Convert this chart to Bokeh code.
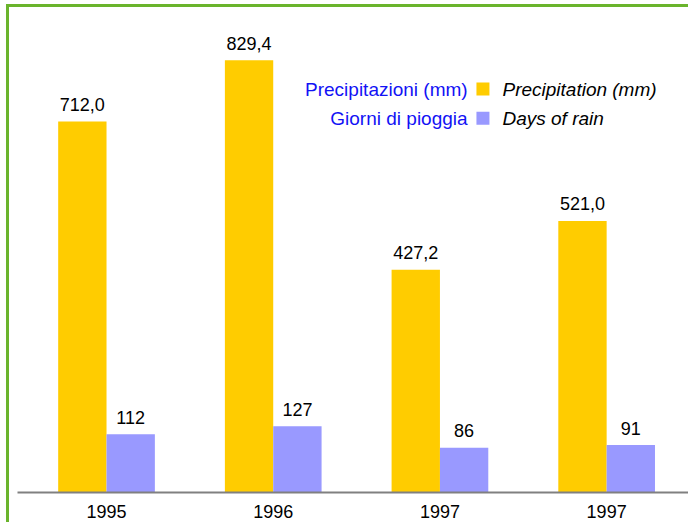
import numpy as np
from bokeh.plotting import figure
from bokeh.models import Range1d, ColumnDataSource, FixedTicker, Label
from bokeh.core.properties import value
from bokeh.embed import file_html
from bokeh.resources import INLINE

years = ["1995", "1996", "1997", "1997"]
precip = [712.0, 829.4, 427.2, 521.0]
rain_days = [112, 127, 86, 91]

legend_it = ["Precipitazioni (mm)", "Giorni di pioggia"]
legend_en = ["Precipitation (mm)", "Days of rain"]

YELLOW = "#ffcc00"
LAVENDER = "#9999ff"
GREEN = "#6ab42c"
FONT = "Liberation Sans"

idx = np.arange(len(years))
bw = 0.29

p = figure(width=688, height=522, output_backend="svg", toolbar_location=None,
           x_range=Range1d(-0.534, 3.491), y_range=Range1d(0, 921),
           min_border_left=17, min_border_right=0, min_border_top=12, min_border_bottom=30)
p.border_fill_color = None
p.styles = {"box-shadow": f"inset 6px 4px 0 0 white, inset 9px 7px 0 0 {GREEN}",
            "background-color": "white"}
p.outline_line_color = None
p.background_fill_color = "white"
p.xgrid.visible = False
p.ygrid.visible = False
p.yaxis.visible = False

src1 = ColumnDataSource(dict(x=idx - bw / 2, top=precip,
                             lab=[f"{v:.1f}".replace(".", ",") for v in precip]))
src2 = ColumnDataSource(dict(x=idx + bw / 2, top=rain_days,
                             lab=[str(v) for v in rain_days]))

p.vbar(x="x", top="top", width=bw, source=src1, fill_color=YELLOW, line_color=None)
p.vbar(x="x", top="top", width=bw, source=src2, fill_color=LAVENDER, line_color=None)

for src in (src1, src2):
    p.text(x="x", y="top", text="lab", source=src, text_align="center",
           text_baseline="alphabetic", y_offset=-17, text_font=value(FONT),
           text_font_size="18px", text_color="black")

xa = p.xaxis[0]
xa.ticker = FixedTicker(ticks=list(idx))
xa.major_label_overrides = {int(i): y for i, y in zip(idx, years)}
xa.major_tick_line_color = None
xa.minor_tick_line_color = None
xa.major_tick_out = 0
xa.major_tick_in = 0
xa.axis_line_color = "#808080"
xa.axis_line_width = 2
xa.major_label_text_font = FONT
xa.major_label_text_font_size = "18px"
xa.major_label_text_color = "black"
xa.major_label_standoff = 12

# legend
leg_y = [774, 718]
for i, (it, en, col) in enumerate(zip(legend_it, legend_en, [YELLOW, LAVENDER])):
    p.add_layout(Label(x=2.166, y=leg_y[i], text=it, text_align="right",
                       text_baseline="middle", text_font=FONT, text_font_size="19px",
                       text_color="#1212f5"))
    p.add_layout(Label(x=2.375, y=leg_y[i], text=en, text_align="left",
                       text_baseline="middle", text_font=FONT, text_font_size="19px",
                       text_font_style="italic", text_color="black"))
p.scatter(x=[2.258, 2.258], y=leg_y, marker="square", size=13,
          fill_color=[YELLOW, LAVENDER], line_color=None)

open("out.html", "w").write(file_html(p, INLINE))
